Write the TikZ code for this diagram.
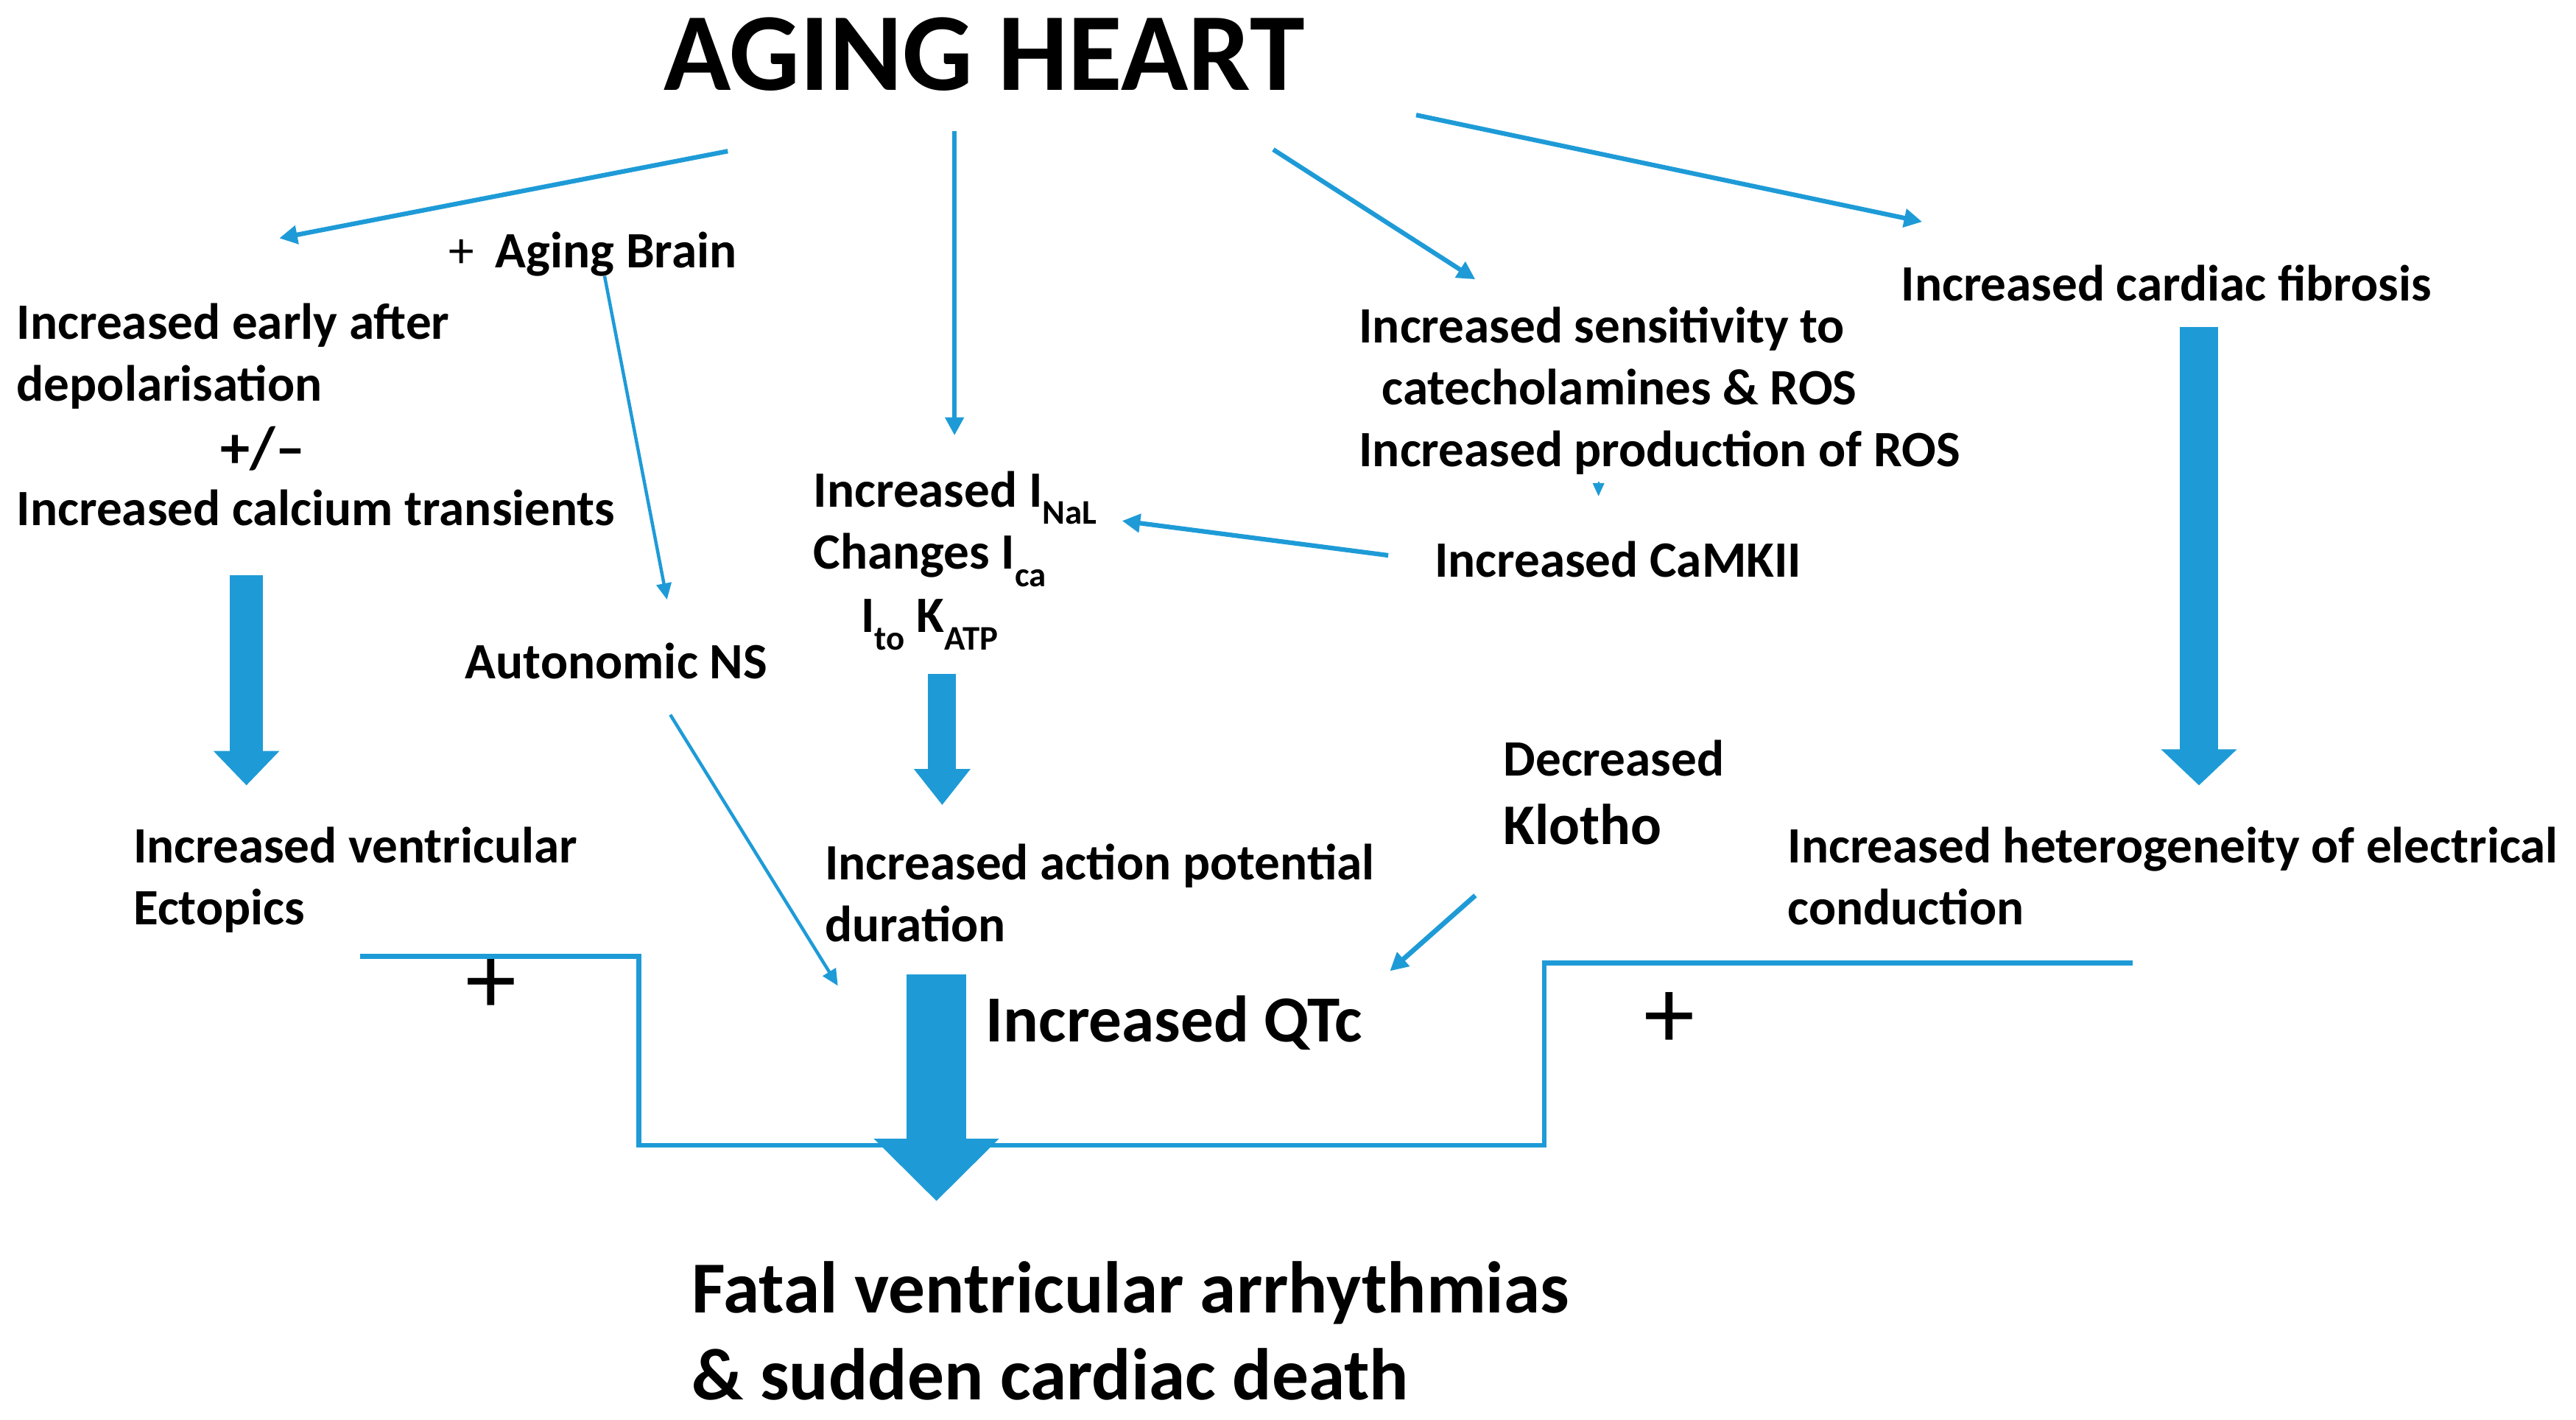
\documentclass[tikz,border=0pt]{standalone}
\usepackage{fontspec}
\setmainfont{Carlito}
\usetikzlibrary{arrows.meta}
\definecolor{ablue}{RGB}{30,155,215}
\definecolor{aedge}{RGB}{24,132,190}
\newcommand{\lowsub}[1]{\raisebox{-0.34em}{\fontsize{21}{21}\selectfont #1}}
\begin{document}
\begin{tikzpicture}[x=1pt,y=-1pt,
  txt/.style={anchor=base west, inner sep=0pt, align=left, font=\bfseries\fontsize{31}{37.7}\selectfont},
  thinarr/.style={draw=ablue, line width=2.8pt, -{Triangle[length=11pt,width=11pt]}},
  slimarr/.style={draw=ablue, line width=2pt, -{Triangle[length=10pt,width=9pt]}},
  fatarr/.style={draw=ablue},
  bracket/.style={draw=ablue, line width=3pt},
  plus/.style={inner sep=0pt, font=\fontsize{62}{62}\selectfont}
]
\useasboundingbox (0,0) rectangle (1568,864);

% ---------- nodes (anchored at the baseline of their last line) ----------
\node[anchor=base, inner sep=0pt, font=\bfseries\fontsize{67.5}{67.5}\selectfont] (title) at (599,55) {AGING HEART};

\node[txt] (brain) at (273,163) {{\mdseries +}\hspace{13pt}Aging Brain};
\node[txt] (ead) at (10,244) {Increased early after\\depolarisation};
\node[anchor=base, inner sep=0pt, font=\bfseries\fontsize{36}{36}\selectfont] (pm) at (160,285) {+/–};
\node[txt] (calc) at (10,320) {Increased calcium transients};
\node[txt] (ans) at (283,413) {Autonomic NS};
\node[txt] (ive) at (81,563) {Increased ventricular\\Ectopics};

\node[txt] (ina) at (495,385) {Increased I\lowsub{NaL}\\Changes I\lowsub{ca}\\[1pt]\hspace*{29pt}I\lowsub{to} K\lowsub{ATP}};
\node[txt] (sens) at (827,284) {Increased sensitivity to\\\hspace*{14pt}catecholamines \& ROS\\Increased production of ROS};
\node[txt] (camk) at (873,351) {Increased CaMKII};
\node[txt] (fib) at (1157,183) {Increased cardiac fibrosis};
\node[txt] (klo) at (915,514) {Decreased\\[4pt]{\fontsize{35}{35}\selectfont Klotho}};
\node[txt] (apd) at (502,573) {Increased action potential\\duration};
\node[txt] (het) at (1088,563) {Increased heterogeneity of electrical\\conduction};
\node[txt, font=\bfseries\fontsize{40}{40}\selectfont] (qtc) at (600,634) {Increased QTc};
\node[txt, font=\bfseries\fontsize{44.6}{53}\selectfont] (fatal) at (421,852) {Fatal ventricular arrhythmias\\\& sudden cardiac death};

\node[plus] (p1) at (299,600) {+};
\node[plus] (p2) at (1016,621) {+};

% ---------- coordinates ----------
\coordinate (h1) at (443,92);   \coordinate (t1) at (170,145);
\coordinate (h2) at (581,80);   \coordinate (t2) at (581,265);
\coordinate (h3) at (775,91);   \coordinate (t3) at (898,170);
\coordinate (h4) at (862,70);   \coordinate (t4) at (1170,135);
\coordinate (b1) at (368,168);  \coordinate (t5) at (406,365);
\coordinate (n1) at (408,435);  \coordinate (t6) at (510,600);
\coordinate (r1) at (973,293);  \coordinate (t7) at (973,302);
\coordinate (c1) at (845,338);  \coordinate (t8) at (683,317);
\coordinate (k1) at (898,545);  \coordinate (t9) at (846,591);

\coordinate (L0) at (219,582); \coordinate (L1) at (389,582); \coordinate (L2) at (389,697);
\coordinate (R2) at (940,697); \coordinate (R1) at (940,586); \coordinate (R0) at (1298,586);

\coordinate (fa1) at (150,350); \coordinate (fa1e) at (150,478);
\coordinate (fa2) at (573.5,410); \coordinate (fa2e) at (573.5,490);
\coordinate (fa3) at (1338.5,199); \coordinate (fa3e) at (1338.5,478);
\coordinate (fa4) at (570,593); \coordinate (fa4e) at (570,731);

% ---------- connectors ----------
\draw[thinarr] (h1) -- (t1);
\draw[thinarr] (h2) -- (t2);
\draw[thinarr] (h3) -- (t3);
\draw[thinarr] (h4) -- (t4);
\draw[slimarr] (b1) -- (t5);
\draw[slimarr] (n1) -- (t6);
\draw[draw=ablue, line width=1pt, -{Triangle[length=8pt,width=7pt]}] (r1) -- (t7);
\draw[thinarr] (c1) -- (t8);
\draw[thinarr, line width=3pt] (k1) -- (t9);

\draw[bracket] (L0) -- (L1) -- (L2) -- (R2) -- (R1) -- (R0);

\draw[fatarr, line width=20pt, -{Triangle[length=21pt,width=39pt]}] (fa1) -- (fa1e);
\draw[fatarr, line width=17pt, -{Triangle[length=22pt,width=33pt]}] (fa2) -- (fa2e);
\draw[fatarr, line width=23pt, -{Triangle[length=22pt,width=45pt]}] (fa3) -- (fa3e);
\draw[fatarr, line width=36pt, -{Triangle[length=38pt,width=74pt]}] (fa4) -- (fa4e);
\end{tikzpicture}
\end{document}
